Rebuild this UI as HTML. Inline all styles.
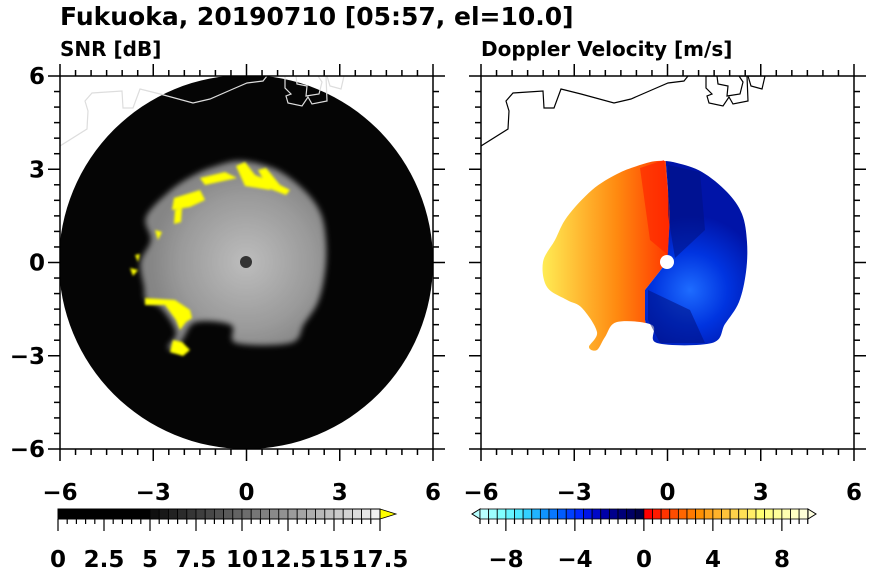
<!DOCTYPE html>
<html><head><meta charset="utf-8"><style>
body{margin:0;background:#fff;width:870px;height:570px;overflow:hidden}
svg text{font-family:"DejaVu Sans","Liberation Sans",sans-serif;font-weight:bold;fill:#000}
</style></head><body>
<svg id="s" width="870" height="570" xmlns="http://www.w3.org/2000/svg">
<defs>
<filter id="bl" x="-20%" y="-20%" width="140%" height="140%"><feGaussianBlur stdDeviation="3"/></filter>
<filter id="bl2"><feGaussianBlur stdDeviation="1.2"/></filter>
<radialGradient id="gg" cx="246" cy="262" r="95" gradientUnits="userSpaceOnUse">
<stop offset="0" stop-color="#bdbdbd"/><stop offset="0.7" stop-color="#9a9a9a"/><stop offset="1" stop-color="#858585"/></radialGradient>
<linearGradient id="og" x1="541" y1="0" x2="667" y2="0" gradientUnits="userSpaceOnUse">
<stop offset="0" stop-color="#ffee55"/><stop offset="0.3" stop-color="#ffbb33"/><stop offset="0.6" stop-color="#ff8a10"/><stop offset="1" stop-color="#ff3a00"/></linearGradient>
<radialGradient id="bg" cx="690" cy="290" r="75" gradientUnits="userSpaceOnUse">
<stop offset="0" stop-color="#1e6cff"/><stop offset="0.5" stop-color="#0034e0"/><stop offset="1" stop-color="#0014a8"/></radialGradient>
<clipPath id="cl"><rect x="60" y="76" width="373" height="373"/></clipPath>
<clipPath id="cr"><rect x="481" y="76" width="373" height="373"/></clipPath>
<clipPath id="west"><polygon points="400,140 664,140 670,215 667,262 645,290 645,320 657,370 400,370"/></clipPath>
<clipPath id="east"><polygon points="900,140 664,140 670,215 667,262 645,290 645,320 657,370 900,370"/></clipPath>
</defs>
<text x="60" y="25" font-size="25">Fukuoka, 20190710 [05:57, el=10.0]</text>
<text x="60" y="56" font-size="20">SNR [dB]</text>
<text x="481" y="56" font-size="20">Doppler Velocity [m/s]</text>

<g clip-path="url(#cl)">
<circle cx="246" cy="262" r="187" fill="#050505"/>
<g filter="url(#bl)"><path id="blobL" fill="url(#gg)"/></g>
<g fill="#ffff00" filter="url(#bl2)">
<path d="M200,178 L225,172 L237,178 L205,185 Z"/>
<path d="M236,166 L245,162 L255,175 L272,182 L270,190 L245,186 Z"/>
<path d="M258,170 L266,168 L280,185 L290,190 L286,195 L268,188 Z"/>
<path d="M174,198 L200,190 L205,200 L190,207 L172,210 Z"/>
<path d="M175,210 L182,208 L181,222 L174,224 Z"/>
<path d="M155,230 L162,232 L158,240 Z"/>
<path d="M135,255 L140,254 L138,262 Z"/>
<path d="M130,268 L138,270 L133,276 Z"/>
<path d="M145,298 L175,300 L190,310 L192,318 L186,322 L180,330 L176,320 L165,305 L145,305 Z"/>
<path d="M173,340 L182,342 L190,350 L183,356 L170,352 Z"/>
</g>
<circle cx="246" cy="262" r="6" fill="#333"/>
<g fill="none" stroke="#ddd" stroke-width="1.2">
<polyline points="60,146 87,129 88,111 85,101 92,93 122,91 123,108 133,108 140,89 160,94 193,103 210,99 233,89 247,83 263,81 267,76"/>
<polygon points="285,76 296,76 297,84 307,86 306,96 319,94 322,82 318,76 326,76 327,101 312,104 308,97 302,106 288,103 286,96 291,94 285,88"/>
<polygon points="327,76 344,76 341,89 330,86"/>
</g>
</g>

<g clip-path="url(#cr)">
<path id="bw" clip-path="url(#west)" fill="url(#og)"/>
<path id="be" clip-path="url(#east)" fill="url(#bg)"/>
<path fill="#ff2000" opacity="0.6" d="M640,168 L664,160 L670,215 L668,255 L650,240 Z"/>
<path fill="#001080" opacity="0.55" d="M668,165 L700,172 L705,230 L675,258 L668,215 Z"/>
<path fill="#001080" opacity="0.55" d="M648,290 L690,310 L705,343 L660,343 L648,320 Z"/>
<circle cx="667" cy="262" r="7" fill="#fff"/>
<g fill="none" stroke="#000" stroke-width="1.2">
<polyline points="481,146 508,129 509,111 506,101 513,93 543,91 544,108 554,108 561,89 581,94 614,103 631,99 654,89 668,83 684,81 688,76"/>
<polygon points="706,76 717,76 718,84 728,86 727,96 740,94 743,82 739,76 747,76 748,101 733,104 729,97 723,106 709,103 707,96 712,94 706,88"/>
<polygon points="748,76 765,76 762,89 751,86"/>
</g>
</g>
<g id="axes"></g>
</svg>
<script>
const P=[[-10,-101],[10,-99],[35,-90],[60,-70],[75,-48],[80,-20],[79,10],[72,40],[58,62],[45,81],[-10,81],[-15,63],[-50,60],[-62,75],[-70,88],[-78,85],[-70,70],[-85,46],[-100,38],[-120,25],[-124,0],[-112,-22],[-100,-45],[-75,-72],[-50,-88],[-30,-96]];
function smooth(cx,cy,pts){const p=pts.map(q=>[q[0]+cx,q[1]+cy]);const n=p.length;let d=`M${p[0][0]},${p[0][1]}`;
for(let i=0;i<n;i++){const p0=p[(i-1+n)%n],p1=p[i],p2=p[(i+1)%n],p3=p[(i+2)%n];
const c1=[p1[0]+(p2[0]-p0[0])/6,p1[1]+(p2[1]-p0[1])/6],c2=[p2[0]-(p3[0]-p1[0])/6,p2[1]-(p3[1]-p1[1])/6];
d+=` C${c1[0]},${c1[1]} ${c2[0]},${c2[1]} ${p2[0]},${p2[1]}`;}return d+'Z';}
const PL=P.map(q=>[q[0]<-100?q[0]*0.85:q[0],q[1]]);
document.getElementById('blobL').setAttribute('d',smooth(246,262,PL));
const dR=smooth(667,262,P);document.getElementById('bw').setAttribute('d',dR);document.getElementById('be').setAttribute('d',dR);
const s=document.getElementById('axes');const NS='http://www.w3.org/2000/svg';
function el(t,a,txt){const e=document.createElementNS(NS,t);for(const k in a)e.setAttribute(k,a[k]);if(txt!=null)e.textContent=txt;s.appendChild(e);return e;}
function ln(x1,y1,x2,y2,w){el('line',{x1,y1,x2,y2,stroke:'#000','stroke-width':w||1.5});}
[60,481].forEach(X=>{
 el('rect',{x:X,y:76,width:373,height:373,fill:'none',stroke:'#000','stroke-width':1.5});
 for(let i=0;i<=24;i++){const v=-6+i*0.5;const p=X+(v+6)*373/12;const py=449-(v+6)*373/12;const maj=(i%6==0);const L=maj?12:6;
  ln(p,449,p,449+L);ln(p,76,p,76-L);ln(X,py,X-L,py);ln(X+373,py,X+373+L,py);
  if(maj){el('text',{x:p,y:500,'font-size':23,'text-anchor':'middle'},(v<0?'\u2212':'')+Math.abs(v));
   if(X==60)el('text',{x:45,y:py+8,'font-size':23,'text-anchor':'end'},(v<0?'\u2212':'')+Math.abs(v));}
 }
});
const u=18.4;
el('rect',{x:58,y:509,width:92,height:10,fill:'#000'});
for(let i=0;i<25;i++){const x=150+i*u/2;const g=Math.round(15+i*225/24);el('rect',{x:x,y:509,width:u/2,height:10,fill:`rgb(${g},${g},${g})`,stroke:'#000','stroke-width':0.8});}
el('polygon',{points:'380,509 396,514 380,519',fill:'#ffff00',stroke:'#000','stroke-width':0.8});
el('rect',{x:58,y:509,width:322,height:10,fill:'none',stroke:'#000','stroke-width':1});
for(let i=0;i<=35;i++){const x=58+i*u/2;const maj=i%5==0;ln(x,519,x,519+(maj?12:5),1.2);}
['0','2.5','5','7.5','10','12.5','15','17.5'].forEach((t,i)=>el('text',{x:58+i*46,y:567,'font-size':23,'text-anchor':'middle'},t));
const cols=['#b8ffff','#9cffff','#80ffff','#66f4ff','#4de8ff','#33d0ff','#20b4ff','#1094ff','#0878ff','#005cff','#0040ff','#0028ff','#0014e8','#0008c8','#0000a8','#00008c','#000078','#000064','#000048',
'#ff0000','#ff1a00','#ff3300','#ff4d00','#ff6600','#ff7a00','#ff8f00','#ffa31a','#ffb22a','#ffc23a','#ffd24a','#ffe055','#ffee66','#ffff70','#ffff85','#ffff9a','#ffffb0','#ffffc4','#ffffd8'];
const vu=17.25/2;
el('polygon',{points:'480,509 472,514 480,519',fill:cols[0],stroke:'#000','stroke-width':1});
el('polygon',{points:'808,509 816,514 808,519',fill:'#ffffe0',stroke:'#000','stroke-width':1});
cols.forEach((c,i)=>el('rect',{x:480+i*vu,y:509,width:vu,height:10,fill:c,stroke:'#000','stroke-width':0.8}));
for(let i=0;i<=38;i++){const v=-9.5+i*0.5;const x=480+i*vu;const maj=(Math.abs(v)%4==0);ln(x,519,x,519+(maj?12:5),1.2);}
[-8,-4,0,4,8].forEach(v=>el('text',{x:644+v*17.25,y:567,'font-size':23,'text-anchor':'middle'},(v<0?'\u2212':'')+Math.abs(v)));
</script>
</body></html>
